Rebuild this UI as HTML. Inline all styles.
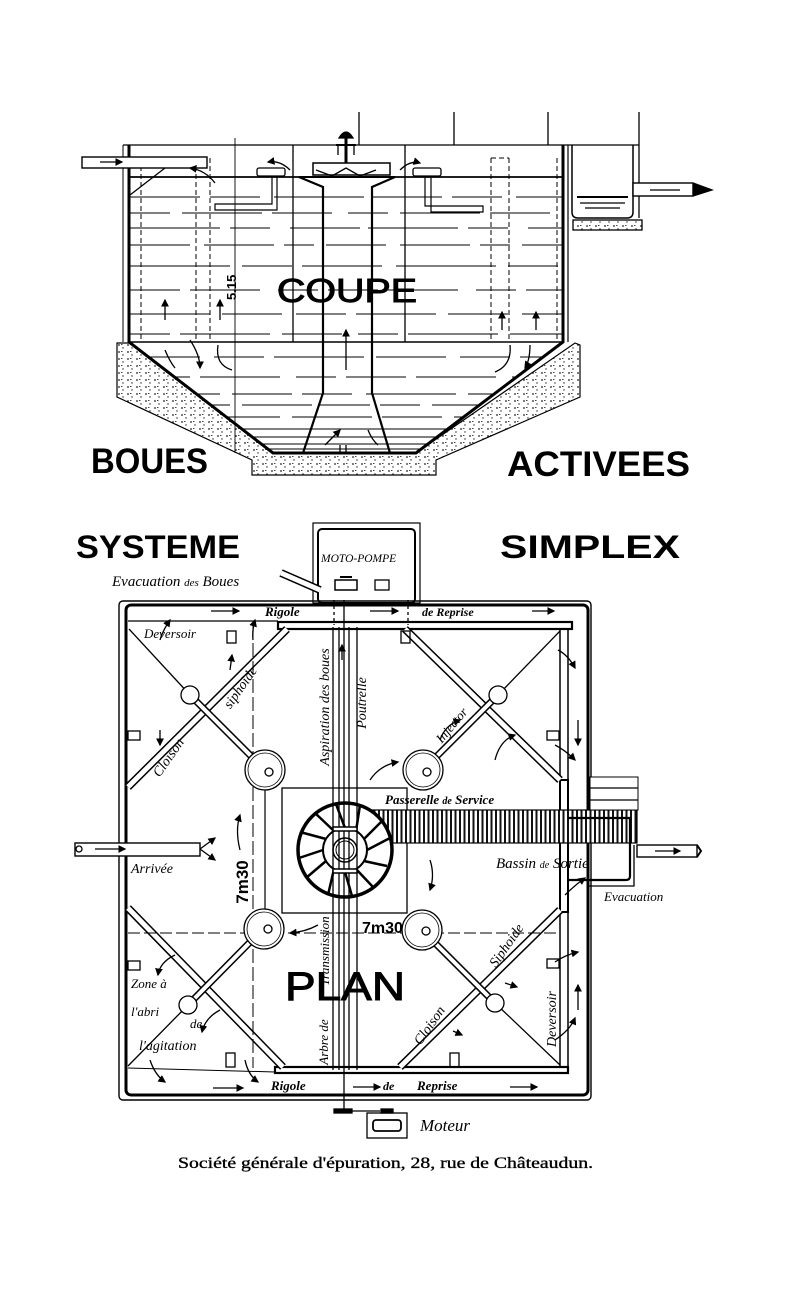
<!DOCTYPE html>
<html><head><meta charset="utf-8"><style>
html,body{margin:0;padding:0;background:#fff;}
svg{display:block;}
.h{font-family:"Liberation Sans",sans-serif;}
.i{font-family:"Liberation Serif",serif;font-style:italic;}
</style></head><body>
<svg width="800" height="1304" viewBox="0 0 800 1304" xmlns="http://www.w3.org/2000/svg">
<defs>
<pattern id="dots" width="9" height="7" patternUnits="userSpaceOnUse">
<rect width="9" height="7" fill="#fff"/>
<circle cx="2" cy="2" r="0.9" fill="#222"/><circle cx="6" cy="5" r="0.7" fill="#222"/><rect x="4" y="1" width="1.5" height="1" fill="#444"/>
</pattern>
<pattern id="hatch" width="4.5" height="40" patternUnits="userSpaceOnUse">
<rect width="4.5" height="40" fill="#fff"/><rect x="0" width="2" height="40" fill="#111"/>
</pattern>
<clipPath id="tank"><polygon points="130,146 563,146 563,342 416,452 273,452 130,342"/></clipPath>
<marker id="ar" markerWidth="6" markerHeight="6" refX="5" refY="3" orient="auto"><path d="M0,0 L6,3 L0,6 z" fill="#000"/></marker>
</defs>
<g stroke="#000" fill="none" stroke-width="1.3">
<line x1="359" y1="112" x2="359" y2="145"/><line x1="454" y1="112" x2="454" y2="145"/>
<line x1="548" y1="112" x2="548" y2="145"/><line x1="639" y1="112" x2="639" y2="218"/>
<line x1="123" y1="145" x2="639" y2="145"/>
<polygon points="117,343 130,343 273,453 416,453 575,343 580,345 580,397 436,460 436,475 252,475 252,460 117,397" fill="url(#dots)" stroke-width="1.2"/>
<g clip-path="url(#tank)" stroke-width="1.1">
<line x1="130" y1="197" x2="563" y2="197" stroke-dasharray="70 10 50 14 90 8"/>
<line x1="130" y1="213" x2="563" y2="213" stroke-dasharray="40 12 80 10 60 16"/>
<line x1="130" y1="228" x2="563" y2="228" stroke-dasharray="90 10 40 20 70 8"/>
<line x1="130" y1="245" x2="563" y2="245" stroke-dasharray="60 14 70 10 30 12"/>
<line x1="130" y1="266" x2="563" y2="266" stroke-dasharray="100 12 50 10 80 14"/>
<line x1="130" y1="290" x2="563" y2="290" stroke-dasharray="50 10 70 18 40 10"/>
<line x1="130" y1="314" x2="563" y2="314" stroke-dasharray="80 12 60 14 50 10"/>
<line x1="130" y1="334" x2="563" y2="334" stroke-dasharray="40 10 90 12 60 16"/>
<line x1="130" y1="342" x2="563" y2="342" stroke-width="1.4"/>
<line x1="130" y1="357" x2="563" y2="357" stroke-dasharray="70 14 50 10 90 12"/>
<line x1="130" y1="377" x2="563" y2="377" stroke-dasharray="60 10 80 16 40 10"/>
<line x1="130" y1="394" x2="563" y2="394" stroke-dasharray="90 12 60 10 50 14"/>
<line x1="130" y1="405" x2="563" y2="405" stroke-dasharray="50 10 40 12 70 8"/>
<line x1="130" y1="417" x2="563" y2="417" stroke-dasharray="80 10 60 12"/>
<line x1="130" y1="429" x2="563" y2="429"/>
<line x1="130" y1="437" x2="563" y2="437"/>
<line x1="130" y1="444" x2="563" y2="444"/>
<line x1="130" y1="449" x2="563" y2="449"/>
</g>
<polyline points="123,145 123,342" stroke-width="1"/>
<polyline points="129,145 129,342 273,453 416,453 563,342 563,145" stroke-width="3"/>
<line x1="568" y1="145" x2="568" y2="342" stroke-width="1.2"/>
<line x1="130" y1="177" x2="563" y2="177" stroke-width="1.8"/>
<line x1="293" y1="145" x2="293" y2="342"/><line x1="405" y1="145" x2="405" y2="342"/>
<line x1="235" y1="138" x2="235" y2="453" stroke-width="0.9"/>
<g stroke-dasharray="5 3" stroke-width="1">
<line x1="196" y1="158" x2="196" y2="342"/><line x1="210" y1="158" x2="210" y2="342"/>
<line x1="491" y1="158" x2="491" y2="342"/><line x1="509" y1="158" x2="509" y2="342"/>
<line x1="557" y1="158" x2="557" y2="342"/><line x1="141" y1="158" x2="141" y2="342"/>
<line x1="491" y1="158" x2="509" y2="158"/>
</g>
<polyline points="299,177 323,187 323,393 303,453" stroke-width="2.2"/>
<polyline points="395,177 372,187 372,393 390,453" stroke-width="2.2"/>
<rect x="313" y="163" width="77" height="12" stroke-width="1.5"/>
<line x1="299" y1="177" x2="395" y2="177" stroke-width="2"/>
<polyline points="316,170 332,176 346,168 360,176 376,170"/>
<line x1="346" y1="138" x2="346" y2="163" stroke-width="3"/>
<path d="M339,138 Q346,126 353,138 Z" fill="#000"/>
<line x1="336" y1="145" x2="356" y2="145" stroke-width="2"/>
<line x1="338" y1="145" x2="338" y2="155"/><line x1="354" y1="145" x2="354" y2="155"/>
<rect x="257" y="168" width="28" height="8" rx="2"/><path d="M272,176 V204 H215 V210 H277 V176" stroke-width="1.2"/>
<rect x="413" y="168" width="28" height="8" rx="2"/><path d="M425,176 V206 H483 V212 H431 V176" stroke-width="1.2"/>
<rect x="82" y="157" width="125" height="11" fill="#fff" stroke-width="1.4"/>
<line x1="100" y1="162" x2="122" y2="162" marker-end="url(#ar)"/>
<line x1="130" y1="195" x2="165" y2="168"/>
<path d="M572,145 V212 Q572,218 578,218 H627 Q633,218 633,212 V145" stroke-width="1.5"/>
<line x1="577" y1="197" x2="628" y2="197" stroke-width="2"/><line x1="580" y1="203" x2="625" y2="203"/><line x1="585" y1="208" x2="620" y2="208"/>
<rect x="573" y="220" width="69" height="10" fill="url(#dots)"/>
<rect x="633" y="183" width="60" height="13" fill="#fff" stroke-width="1.4"/>
<path d="M693,183 L712,190 L693,196" fill="#000"/>
<line x1="650" y1="190" x2="680" y2="190"/>
<path d="M215,183 Q205,170 190,168" marker-end="url(#ar)"/><path d="M290,170 Q280,160 268,162" marker-end="url(#ar)"/>
<path d="M400,170 Q410,160 420,163" marker-end="url(#ar)"/>
<line x1="165" y1="320" x2="165" y2="300" marker-end="url(#ar)"/><line x1="220" y1="320" x2="220" y2="300" marker-end="url(#ar)"/>
<line x1="346" y1="370" x2="346" y2="330" marker-end="url(#ar)"/>
<line x1="502" y1="330" x2="502" y2="312" marker-end="url(#ar)"/><line x1="536" y1="330" x2="536" y2="312" marker-end="url(#ar)"/>
<path d="M165,350 Q170,362 175,368"/><path d="M190,340 Q200,355 200,368" marker-end="url(#ar)"/>
<path d="M218,345 Q215,365 232,370"/><path d="M510,345 Q512,365 495,372"/><path d="M530,345 Q530,360 525,368" marker-end="url(#ar)"/>
<path d="M325,445 Q335,435 340,430" marker-end="url(#ar)"/><path d="M368,430 Q372,440 378,445"/>
<line x1="340" y1="445" x2="340" y2="453"/><line x1="346" y1="445" x2="346" y2="453"/>
</g>
<text x="277" y="302" class="h" font-size="33" stroke="#000" stroke-width="1" textLength="140" lengthAdjust="spacingAndGlyphs">COUPE</text>
<text transform="translate(236,300) rotate(-90)" class="h" font-size="13" font-weight="bold">5.15</text>
<text x="91" y="473" class="h" font-size="35" font-weight="bold" textLength="117" lengthAdjust="spacingAndGlyphs">BOUES</text>
<text x="507" y="476" class="h" font-size="35" font-weight="bold" textLength="183" lengthAdjust="spacingAndGlyphs">ACTIVEES</text>
<text x="76" y="558" class="h" font-size="32" font-weight="bold" textLength="164" lengthAdjust="spacingAndGlyphs">SYSTEME</text>
<text x="500" y="558" class="h" font-size="32" font-weight="bold" textLength="180" lengthAdjust="spacingAndGlyphs">SIMPLEX</text>

<g stroke="#000" fill="none" stroke-width="1.3">
<rect x="313" y="523" width="107" height="80" stroke-width="1.2"/>
<rect x="318" y="529" width="97" height="74" rx="4" stroke-width="2"/>
<rect x="335" y="580" width="22" height="10" stroke-width="1.5"/><rect x="375" y="580" width="14" height="10"/>
<line x1="340" y1="577" x2="352" y2="577" stroke-width="2"/>
<line x1="281" y1="573" x2="320" y2="590" stroke-width="8"/><line x1="281" y1="573" x2="320" y2="590" stroke-width="5" stroke="#fff"/>
<rect x="119" y="601" width="472" height="499" rx="4" stroke-width="1.4"/>
<rect x="126" y="605" width="462" height="490" rx="5" stroke-width="3"/>
<line x1="128" y1="621" x2="278" y2="621"/><line x1="128" y1="1068" x2="275" y2="1072" stroke-width="1"/>
<rect x="278" y="622" width="294" height="7" stroke-width="2.2"/>
<rect x="275" y="1067" width="293" height="6" stroke-width="2.2"/>
<line x1="560" y1="629" x2="560" y2="1068" stroke-width="1.5"/><line x1="568" y1="629" x2="568" y2="1068" stroke-width="1.5"/>
<rect x="560" y="780" width="8" height="132" stroke-width="2"/>
<line x1="334" y1="600" x2="334" y2="625" stroke-dasharray="3 3"/><line x1="408" y1="600" x2="408" y2="625" stroke-dasharray="3 3"/>
<line x1="128" y1="787" x2="287" y2="629" stroke-width="8"/><line x1="128" y1="787" x2="287" y2="629" stroke-width="5" stroke="#fff"/>
<line x1="129" y1="629" x2="190" y2="695"/><line x1="190" y1="695" x2="265" y2="770" stroke-width="7"/><line x1="190" y1="695" x2="265" y2="770" stroke-width="4" stroke="#fff"/>
<line x1="405" y1="629" x2="560" y2="780" stroke-width="8"/><line x1="405" y1="629" x2="560" y2="780" stroke-width="5" stroke="#fff"/>
<line x1="560" y1="631" x2="498" y2="695"/><line x1="498" y1="695" x2="423" y2="770" stroke-width="7"/><line x1="498" y1="695" x2="423" y2="770" stroke-width="4" stroke="#fff"/>
<line x1="128" y1="908" x2="283" y2="1067" stroke-width="8"/><line x1="128" y1="908" x2="283" y2="1067" stroke-width="5" stroke="#fff"/>
<line x1="128" y1="1066" x2="188" y2="1005"/><line x1="188" y1="1005" x2="264" y2="928" stroke-width="7"/><line x1="188" y1="1005" x2="264" y2="928" stroke-width="4" stroke="#fff"/>
<line x1="400" y1="1067" x2="560" y2="910" stroke-width="8"/><line x1="400" y1="1067" x2="560" y2="910" stroke-width="5" stroke="#fff"/>
<line x1="560" y1="1065" x2="495" y2="1003"/><line x1="495" y1="1003" x2="422" y2="930" stroke-width="7"/><line x1="495" y1="1003" x2="422" y2="930" stroke-width="4" stroke="#fff"/>
<rect x="282" y="788" width="125" height="125"/>
<line x1="265" y1="770" x2="265" y2="928" stroke-width="1.2"/>
<line x1="128" y1="933" x2="560" y2="933" stroke-dasharray="12 4" stroke-width="1"/>
<line x1="253" y1="625" x2="253" y2="1068" stroke-dasharray="14 4" stroke-width="1"/>
<g fill="#fff">
<circle cx="265" cy="770" r="20"/><circle cx="423" cy="770" r="20"/><circle cx="264" cy="929" r="20"/><circle cx="422" cy="930" r="20"/>
<circle cx="190" cy="695" r="9"/><circle cx="498" cy="695" r="9"/><circle cx="188" cy="1005" r="9"/><circle cx="495" cy="1003" r="9"/>
</g>
<circle cx="265" cy="770" r="17" stroke-width="0.8"/><circle cx="423" cy="770" r="17" stroke-width="0.8"/><circle cx="264" cy="929" r="17" stroke-width="0.8"/><circle cx="422" cy="930" r="17" stroke-width="0.8"/>
<circle cx="269" cy="772" r="4"/><circle cx="427" cy="772" r="4"/><circle cx="268" cy="929" r="4"/><circle cx="426" cy="931" r="4"/>
<rect x="227" y="631" width="9" height="12"/><rect x="401" y="631" width="9" height="12"/>
<rect x="128" y="731" width="12" height="9"/><rect x="547" y="731" width="12" height="9"/>
<rect x="128" y="961" width="12" height="9"/><rect x="547" y="959" width="12" height="9"/>
<rect x="226" y="1053" width="9" height="14"/><rect x="450" y="1053" width="9" height="14"/>
<rect x="357" y="810" width="280" height="33" fill="url(#hatch)" stroke-width="1.2"/>
<rect x="590" y="777" width="48" height="33" fill="#fff" stroke-width="1"/>
<line x1="590" y1="788" x2="638" y2="788"/><line x1="590" y1="800" x2="638" y2="800"/>
<path d="M568,818 H630 V876 Q630,880 626,880 H568" stroke-width="2.2"/>
<path d="M568,880 V906 M587,886 H634 V845"/>
<rect x="637" y="845" width="60" height="12" fill="#fff" stroke-width="1.4"/>
<path d="M697,845 L701,851 L697,857" stroke-width="2"/>
<line x1="655" y1="851" x2="680" y2="851" marker-end="url(#ar)"/>
<circle cx="345" cy="850" r="47" stroke-width="3.5" fill="#fff"/>
<circle cx="345" cy="850" r="22" stroke-width="2" fill="#fff"/>
<g stroke-width="2.5">
<line x1="367" y1="850" x2="390" y2="838"/><line x1="364" y1="861" x2="387" y2="866"/><line x1="356" y1="869" x2="373" y2="887"/>
<line x1="345" y1="872" x2="352" y2="896"/><line x1="334" y1="869" x2="328" y2="895"/><line x1="326" y1="861" x2="306" y2="878"/>
<line x1="323" y1="850" x2="299" y2="858"/><line x1="326" y1="839" x2="300" y2="832"/><line x1="334" y1="831" x2="315" y2="813"/>
<line x1="345" y1="828" x2="336" y2="804"/><line x1="356" y1="831" x2="360" y2="805"/><line x1="364" y1="839" x2="383" y2="820"/>
</g>
<circle cx="345" cy="850" r="12" stroke-width="1.5" fill="#fff"/>
<circle cx="345" cy="850" r="9" stroke-width="1"/>
<line x1="333" y1="627" x2="333" y2="1070"/><line x1="357" y1="627" x2="357" y2="1070"/>
<line x1="339" y1="627" x2="339" y2="1070"/><line x1="349" y1="627" x2="349" y2="1070"/>
<line x1="344" y1="600" x2="344" y2="1111"/>
<rect x="333" y="827" width="24" height="4" stroke-width="1.5" fill="#fff"/><rect x="333" y="869" width="24" height="4" stroke-width="1.5" fill="#fff"/>
<rect x="334" y="1109" width="18" height="4" fill="#000"/>
<line x1="352" y1="1111" x2="380" y2="1111"/>
<rect x="367" y="1113" width="40" height="25" stroke-width="1.3"/>
<rect x="373" y="1120" width="28" height="11" rx="3" stroke-width="1.8"/>
<rect x="381" y="1109" width="12" height="4" fill="#000"/>
<rect x="75" y="843" width="125" height="13" fill="#fff" stroke-width="1.4"/>
<circle cx="79" cy="849" r="3"/>
<line x1="95" y1="849" x2="125" y2="849" marker-end="url(#ar)"/>
<path d="M200,849 L215,838" marker-end="url(#ar)"/><path d="M200,849 L215,860" marker-end="url(#ar)"/>
<line x1="211" y1="611" x2="239" y2="611" marker-end="url(#ar)"/><line x1="370" y1="611" x2="398" y2="611" marker-end="url(#ar)"/><line x1="532" y1="611" x2="554" y2="611" marker-end="url(#ar)"/>
<line x1="213" y1="1088" x2="243" y2="1088" marker-end="url(#ar)"/><line x1="353" y1="1087" x2="380" y2="1087" marker-end="url(#ar)"/><line x1="510" y1="1087" x2="537" y2="1087" marker-end="url(#ar)"/>
<line x1="578" y1="720" x2="578" y2="745" marker-end="url(#ar)"/><line x1="578" y1="1010" x2="578" y2="985" marker-end="url(#ar)"/>
<path d="M558,650 Q568,655 575,668" marker-end="url(#ar)"/><path d="M555,745 Q565,750 575,760" marker-end="url(#ar)"/>
<path d="M555,962 Q565,955 578,952" marker-end="url(#ar)"/><path d="M555,1040 Q570,1030 575,1018" marker-end="url(#ar)"/>
<path d="M160,640 Q163,630 170,620" marker-end="url(#ar)"/><path d="M253,640 Q252,630 255,620" marker-end="url(#ar)"/>
<path d="M230,670 L232,655" marker-end="url(#ar)"/><path d="M160,730 L160,745" marker-end="url(#ar)"/>
<path d="M370,780 Q380,765 398,762" marker-end="url(#ar)"/><path d="M440,740 Q445,725 460,720" marker-end="url(#ar)"/>
<path d="M495,760 Q500,740 515,735" marker-end="url(#ar)"/>
<path d="M240,850 Q235,830 240,815" marker-end="url(#ar)"/>
<path d="M430,860 Q435,875 430,890" marker-end="url(#ar)"/>
<path d="M318,925 Q305,932 290,933" marker-end="url(#ar)"/>
<path d="M175,955 Q160,962 158,975" marker-end="url(#ar)"/><path d="M220,1010 Q205,1018 202,1032" marker-end="url(#ar)"/>
<path d="M150,1060 Q155,1075 165,1082" marker-end="url(#ar)"/><path d="M245,1060 Q248,1075 258,1082" marker-end="url(#ar)"/>
<path d="M505,983 L517,987" marker-end="url(#ar)"/><path d="M453,1031 L462,1035" marker-end="url(#ar)"/>
<path d="M565,895 Q575,885 585,878" marker-end="url(#ar)"/>
<line x1="342" y1="660" x2="342" y2="645" marker-end="url(#ar)"/>
</g>
<g fill="#000">
<text x="112" y="586" class="i" font-size="15">Evacuation <tspan font-size="11">des</tspan> Boues</text>
<text x="321" y="562" class="i" font-size="11.5">MOTO-POMPE</text>
<text x="265" y="616" class="i" font-size="13" font-weight="bold">Rigole</text>
<text x="422" y="616" class="i" font-size="12" font-weight="bold">de Reprise</text>
<text x="144" y="638" class="i" font-size="13">Deversoir</text>
<text transform="translate(244,690) rotate(-55)" class="i" font-size="14" text-anchor="middle">siphoide</text>
<text transform="translate(172,760) rotate(-55)" class="i" font-size="14" text-anchor="middle">Cloison</text>
<text transform="translate(329,707) rotate(-90)" class="i" font-size="14" text-anchor="middle">Aspiration des boues</text>
<text transform="translate(366,703) rotate(-90)" class="i" font-size="14" text-anchor="middle">Poutrelle</text>
<text transform="translate(455,728) rotate(-50)" class="i" font-size="13" text-anchor="middle">Injector</text>
<text x="385" y="804" class="i" font-size="13" font-weight="bold">Passerelle <tspan font-size="10">de</tspan> Service</text>
<text x="131" y="873" class="i" font-size="14">Arrivée</text>
<text transform="translate(248,882) rotate(-90)" class="h" font-size="17" font-weight="bold" text-anchor="middle">7m30</text>
<text x="362" y="933" class="h" font-size="16" font-weight="bold">7m30</text>
<text x="496" y="868" class="i" font-size="15">Bassin <tspan font-size="10">de</tspan> Sortie</text>
<text x="604" y="901" class="i" font-size="13">Evacuation</text>
<text transform="translate(329,951) rotate(-90)" class="i" font-size="13" text-anchor="middle">Transmission</text>
<text transform="translate(328,1042) rotate(-90)" class="i" font-size="13" text-anchor="middle">Arbre de</text>
<text x="285" y="1000" class="h" font-size="40" stroke="#000" stroke-width="1" textLength="120" lengthAdjust="spacingAndGlyphs">PLAN</text>
<text x="131" y="988" class="i" font-size="13">Zone à</text>
<text x="131" y="1016" class="i" font-size="13">l'abri</text>
<text x="190" y="1028" class="i" font-size="13">de</text>
<text x="139" y="1050" class="i" font-size="14">l'agitation</text>
<text transform="translate(510,948) rotate(-55)" class="i" font-size="14" text-anchor="middle">Siphoide</text>
<text transform="translate(433,1028) rotate(-55)" class="i" font-size="14" text-anchor="middle">Cloison</text>
<text transform="translate(556,1019) rotate(-90)" class="i" font-size="14" text-anchor="middle">Deversoir</text>
<text x="271" y="1090" class="i" font-size="13" font-weight="bold">Rigole</text>
<text x="383" y="1090" class="i" font-size="12" font-weight="bold">de</text>
<text x="417" y="1090" class="i" font-size="13" font-weight="bold">Reprise</text>
<text x="420" y="1131" class="i" font-size="17">Moteur</text>
<text x="178" y="1168" font-family="Liberation Serif, serif" font-size="16" stroke="#000" stroke-width="0.35" textLength="415" lengthAdjust="spacingAndGlyphs">Société générale d'épuration, 28, rue de Châteaudun.</text>
</g>
</svg>
</body></html>
